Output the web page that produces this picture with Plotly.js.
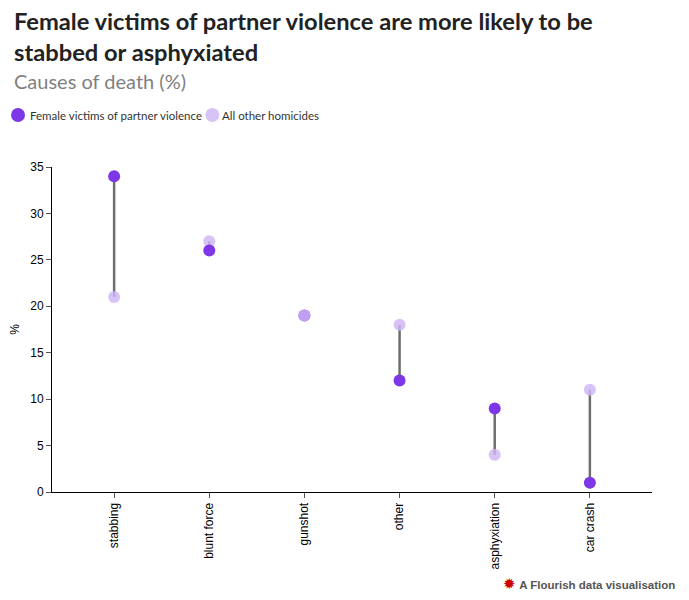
<!DOCTYPE html>
<html>
<head>
<meta charset="utf-8">
<script src="https://cdn.plot.ly/plotly-3.0.1.min.js"></script>
<style>
html,body{margin:0;padding:0;background:#fff;}
#chart{width:689px;height:600px;}
</style>
</head>
<body>
<div id="chart"></div>
<script>
const categories = ["stabbing", "blunt force", "gunshot", "other", "asphyxiation", "car crash"];
const partnerVictims = [34, 26, 19, 12, 9, 1];
const otherHomicides = [21, 27, 19, 18, 4, 11];
const yTicks = [0, 5, 10, 15, 20, 25, 30, 35];

const darkColor = "rgb(125,55,230)";
const lightColor = "rgba(207,182,244,0.82)";
const lightSolid = "rgb(216,195,246)";

const segX = [], segY = [];
categories.forEach((c, i) => {
  segX.push(c, c, null);
  segY.push(partnerVictims[i], otherHomicides[i], null);
});

// Draw order per category: higher value underneath, lower value on top (tie: light on top)
const backX = [], backY = [], backC = [], frontX = [], frontY = [], frontC = [];
categories.forEach((c, i) => {
  const p = partnerVictims[i], o = otherHomicides[i];
  if (p < o) {
    backX.push(c); backY.push(o); backC.push(lightColor);
    frontX.push(c); frontY.push(p); frontC.push(darkColor);
  } else {
    backX.push(c); backY.push(p); backC.push(darkColor);
    frontX.push(c); frontY.push(o); frontC.push(lightColor);
  }
});

const traces = [
  {
    x: segX, y: segY, type: "scatter", mode: "lines",
    line: {color: "#6e6e6e", width: 2.5},
    hoverinfo: "skip", showlegend: false, connectgaps: false
  },
  {
    x: backX, y: backY, type: "scatter", mode: "markers",
    marker: {color: backC, size: 12}, showlegend: false
  },
  {
    x: frontX, y: frontY, type: "scatter", mode: "markers",
    marker: {color: frontC, size: 12}, showlegend: false
  }
];

const font = "Lato, 'Noto Sans', sans-serif";

const layout = {
  width: 689, height: 600,
  margin: {l: 52, r: 37, t: 167, b: 108},
  paper_bgcolor: "#fff", plot_bgcolor: "#fff",
  showlegend: false,
  xaxis: {
    type: "category",
    range: [-0.653, 5.653],
    showgrid: false, zeroline: false,
    showline: true, linecolor: "#000", linewidth: 1,
    ticks: "outside", ticklen: 5, tickcolor: "#555", tickwidth: 1,
    tickangle: -90,
    tickfont: {family: "Arial, 'Liberation Sans', sans-serif", size: 12, color: "#000"}
  },
  yaxis: {
    range: [0, 35],
    tickvals: yTicks,
    showgrid: false, zeroline: false,
    showline: true, linecolor: "#000", linewidth: 1,
    ticks: "outside", ticklen: 5, tickcolor: "#555", tickwidth: 1,
    tickfont: {family: "Arial, 'Liberation Sans', sans-serif", size: 12, color: "#000"},
    title: {text: "%", font: {family: "Arial, 'Liberation Sans', sans-serif", size: 12, color: "#000"}, standoff: 8}
  },
  annotations: [
    {
      xref: "paper", yref: "paper", x: -0.067, y: 1.497, xanchor: "left", yanchor: "top",
      align: "left", showarrow: false,
      text: "<b>Female victims of partner violence are more likely to be<br>stabbed or asphyxiated</b>",
      font: {family: font, size: 23.7, color: "#222"}
    },
    {
      xref: "paper", yref: "paper", x: -0.067, y: 1.308, xanchor: "left", yanchor: "top",
      align: "left", showarrow: false,
      text: "Causes of death (%)",
      font: {family: font, size: 20, color: "#808080"}
    },
    {
      xref: "paper", yref: "paper", x: -0.04, y: 1.16, xanchor: "left", yanchor: "middle",
      align: "left", showarrow: false,
      text: "Female victims of partner violence",
      font: {family: font, size: 11.5, color: "#333"}
    },
    {
      xref: "paper", yref: "paper", x: 0.28, y: 1.16, xanchor: "left", yanchor: "middle",
      align: "left", showarrow: false,
      text: "All other homicides",
      font: {family: font, size: 11.5, color: "#333"}
    },
    {
      xref: "paper", yref: "paper", x: 1.042, y: -0.282, xanchor: "right", yanchor: "middle",
      align: "right", showarrow: false,
      text: "<span style='color:#c00;font-size:15px'>✹</span> <b>A Flourish data visualisation</b>",
      font: {family: "Arial, 'Liberation Sans', sans-serif", size: 11.5, color: "#555"}
    }
  ],
  shapes: [
    {type: "circle", xref: "paper", yref: "paper", x0: -0.0683, x1: -0.045, y0: 1.16 - 0.0215, y1: 1.16 + 0.0215, fillcolor: darkColor, line: {width: 0}},
    {type: "circle", xref: "paper", yref: "paper", x0: 0.2555, x1: 0.2788, y0: 1.16 - 0.0215, y1: 1.16 + 0.0215, fillcolor: lightSolid, line: {width: 0}}
  ]
};

Plotly.newPlot("chart", traces, layout, {displayModeBar: false, staticPlot: true});
</script>
</body>
</html>
